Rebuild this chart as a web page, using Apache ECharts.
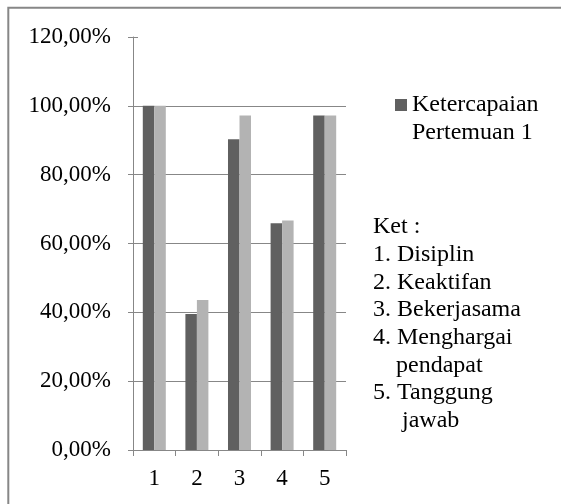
<!DOCTYPE html>
<html>
<head>
<meta charset="utf-8">
<script src="https://cdn.jsdelivr.net/npm/echarts@6/dist/echarts.min.js"></script>
<style>
  html, body { margin: 0; padding: 0; background: #fff; }
  #chart { width: 561px; height: 504px; }
</style>
</head>
<body>
<div id="chart"></div>
<script>
// Aspek yang diamati (kategori sumbu x)
var categories = ['1', '2', '3', '4', '5'];
// Persentase ketercapaian per aspek
var seriesDarkName = 'Ketercapaian Pertemuan 1';
var seriesDark = [100, 39.5, 90.3, 65.9, 97.2];
var seriesLight = [100, 43.6, 97.2, 66.7, 97.2];
// Label sumbu y
var yTickLabels = ['0,00%', '20,00%', '40,00%', '60,00%', '80,00%', '100,00%', '120,00%'];
// Keterangan aspek
var notes = [
  { text: 'Ket :', indent: 0 },
  { text: '1. Disiplin', indent: 0 },
  { text: '2. Keaktifan', indent: 0 },
  { text: '3. Bekerjasama', indent: 0 },
  { text: '4. Menghargai', indent: 0 },
  { text: 'pendapat', indent: 23 },
  { text: '5. Tanggung', indent: 0 },
  { text: 'jawab', indent: 29 }
];

var FONT = '"Liberation Serif", "Times New Roman", serif';
var AXIS_COLOR = '#878787';

var noteGraphics = notes.map(function (n, i) {
  return {
    type: 'text',
    left: 373 + n.indent,
    top: 215 + i * 27.7,
    style: {
      text: n.text,
      font: '24px ' + FONT,
      fill: '#000'
    }
  };
});

var chart = echarts.init(document.getElementById('chart'), null, { renderer: 'canvas' });
chart.setOption({
  backgroundColor: '#fff',
  animation: false,
  grid: { left: 133, right: 215, top: 37, bottom: 54, containLabel: false },
  legend: {
    show: true,
    data: [seriesDarkName],
    left: 395,
    top: 63,
    padding: 0,
    itemWidth: 12,
    itemHeight: 12,
    icon: 'rect',
    // blank first line keeps the marker level with the first line of the name
    formatter: function () { return ' \nKetercapaian\nPertemuan 1'; },
    textStyle: {
      fontFamily: FONT,
      fontSize: 24,
      lineHeight: 28,
      color: '#000'
    }
  },
  xAxis: {
    type: 'category',
    data: categories,
    axisLine: { show: true, lineStyle: { color: AXIS_COLOR, width: 1 } },
    axisTick: { show: true, length: 6, lineStyle: { color: AXIS_COLOR } },
    axisLabel: { fontFamily: FONT, fontSize: 23, color: '#000', margin: 17 },
    splitLine: { show: false }
  },
  yAxis: [{
    type: 'value',
    min: 0,
    max: 120,
    interval: 20,
    axisLine: { show: true, lineStyle: { color: AXIS_COLOR, width: 1 } },
    axisTick: { show: true, length: 5, lineStyle: { color: AXIS_COLOR } },
    axisLabel: {
      fontFamily: FONT, fontSize: 23, color: '#000', margin: 22,
      formatter: function (v) { return yTickLabels[Math.round(v / 20)]; }
    },
    splitLine: {
      show: true,
      lineStyle: {
        color: [AXIS_COLOR, AXIS_COLOR, AXIS_COLOR, AXIS_COLOR, AXIS_COLOR, AXIS_COLOR, 'rgba(0,0,0,0)'],
        width: 1
      }
    }
  }, {
    // inner half of the cross tick marks
    type: 'value',
    position: 'left',
    min: 0,
    max: 120,
    interval: 20,
    axisLine: { show: false },
    axisTick: { show: true, inside: true, length: 5, lineStyle: { color: AXIS_COLOR } },
    axisLabel: { show: false },
    splitLine: { show: false }
  }],
  series: [{
    name: seriesDarkName,
    type: 'bar',
    data: seriesDark,
    barGap: '0%',
    barCategoryGap: '46%',
    itemStyle: { color: '#606060' }
  }, {
    name: 'Pertemuan 2',
    type: 'bar',
    data: seriesLight,
    barGap: '0%',
    barCategoryGap: '46%',
    itemStyle: { color: '#b3b3b3' }
  }],
  graphic: [{
    type: 'rect',
    shape: { x: 8.3, y: 7.8, width: 1000, height: 1000 },
    style: { fill: 'none', stroke: '#878787', lineWidth: 2 },
    silent: true
  }].concat(noteGraphics)
});
</script>
</body>
</html>
